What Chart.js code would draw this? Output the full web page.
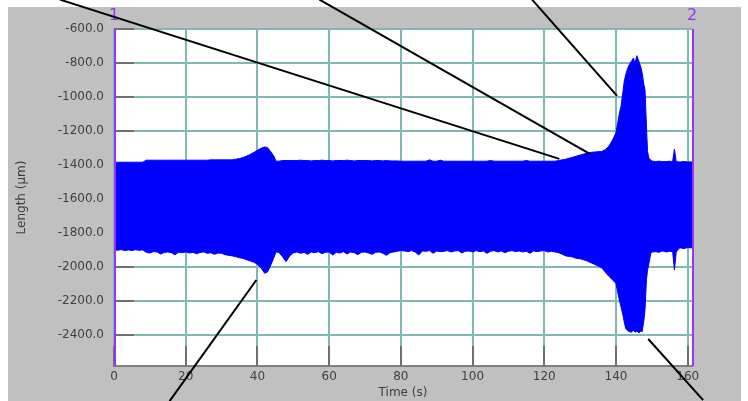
<!DOCTYPE html>
<html>
<head>
<meta charset="utf-8">
<title>Length vs Time</title>
<script src="https://cdn.jsdelivr.net/npm/chart.js@4.4.1/dist/chart.umd.min.js"></script>
<style>
    html, body { margin: 0; padding: 0; background: #ffffff; }
    canvas { display: block; }
</style>
</head>
<body>
<canvas id="lengthChart" width="748" height="401"></canvas>
<script>
// Signal envelope (the oscillation fills the band between upper and lower)
const time = [
    0, 1, 2, 3, 4, 5, 6, 7, 8, 9,
    10, 11, 12, 13, 14, 15, 16, 17, 18, 19,
    20, 21, 22, 23, 24, 25, 26, 27, 28, 29,
    30, 31, 32, 33, 34, 35,
    36, 37, 38, 39, 40, 41, 42, 42.8, 43.5, 44.5, 45.2, 46, 47, 48, 49,
    50, 51, 52, 53, 54, 55, 56, 57, 58, 59,
    60, 61, 62, 63, 64, 65, 66, 67, 68, 69,
    70, 71, 72, 73, 74, 75, 76, 77, 78, 79,
    80, 81, 82, 83, 84, 85, 86, 87, 88, 89,
    90, 91, 92, 93, 94, 95, 96, 97, 98, 99,
    100, 101, 102, 103, 104, 105, 106, 107, 108, 109,
    110, 111, 112, 113, 114, 115, 116, 117, 118, 119,
    120, 121, 122,
    123, 124, 125, 126, 127, 128, 129, 130, 131, 132, 133, 134, 135, 136,
    137, 138, 139, 140, 140.5, 141, 141.4, 142, 142.3, 142.7, 143.2, 143.7, 144.3,
    144.9, 145.3, 145.8, 146.4, 147, 147.3, 147.8, 148.1, 148.5, 148.8, 149.2, 149.7, 150.2,
    151, 152, 153, 154, 155, 155.8, 156.3, 156.8, 157.6, 158, 159, 160, 161.2
];

const upperEnvelope = [
    -1384, -1384, -1384, -1384, -1384, -1384, -1384, -1384, -1384, -1372,
    -1372, -1372, -1372, -1372, -1372, -1372, -1372, -1372, -1372, -1372,
    -1372, -1372, -1372, -1372, -1372, -1372, -1372, -1370, -1370, -1370,
    -1370, -1370, -1370, -1370, -1366, -1362,
    -1356, -1348, -1338, -1326, -1314, -1302, -1294, -1298, -1316, -1345, -1378, -1378, -1374, -1374, -1374,
    -1374, -1374, -1372, -1374, -1374, -1376, -1374, -1374, -1372, -1374,
    -1374, -1376, -1374, -1374, -1374, -1372, -1374, -1376, -1374, -1374,
    -1374, -1374, -1376, -1374, -1374, -1376, -1374, -1376, -1376, -1376,
    -1378, -1378, -1378, -1378, -1378, -1378, -1378, -1378, -1370, -1378,
    -1378, -1372, -1378, -1378, -1378, -1378, -1378, -1378, -1378, -1378,
    -1378, -1378, -1378, -1378, -1378, -1374, -1378, -1378, -1378, -1378,
    -1378, -1378, -1378, -1378, -1378, -1374, -1378, -1378, -1378, -1378,
    -1378, -1378, -1378,
    -1378, -1374, -1370, -1366, -1360, -1354, -1348, -1342, -1336, -1330, -1326, -1324, -1322, -1321,
    -1310, -1290, -1255, -1210, -1150, -1090, -1056, -960, -909, -870, -835, -810, -790,
    -771, -804, -757, -790, -830, -860, -930, -958, -1174, -1321, -1360, -1372, -1378,
    -1380, -1378, -1380, -1380, -1378, -1380, -1307, -1380, -1382, -1382, -1380, -1382, -1382
];

const lowerEnvelope = [
    -1900, -1902, -1898, -1904, -1900, -1903, -1899, -1902, -1900, -1914,
    -1918, -1910, -1912, -1924, -1915, -1912, -1916, -1928, -1914, -1916,
    -1912, -1918, -1914, -1922, -1915, -1912, -1920, -1916, -1926, -1918,
    -1920, -1928, -1932, -1935, -1940, -1946,
    -1950, -1958, -1965, -1972, -1985, -2005, -2037, -2030, -2000, -1950, -1912, -1915, -1940, -1969, -1935,
    -1918, -1912, -1920, -1914, -1926, -1912, -1916, -1910, -1922, -1914,
    -1912, -1930, -1914, -1918, -1910, -1924, -1912, -1916, -1928, -1914,
    -1912, -1918, -1926, -1914, -1912, -1920, -1932, -1916, -1912, -1908,
    -1904, -1906, -1910, -1904, -1912, -1930, -1906, -1908, -1904, -1920,
    -1906, -1910, -1908, -1904, -1912, -1906, -1904, -1918, -1908, -1906,
    -1912, -1904, -1910, -1906, -1920, -1908, -1904, -1912, -1906, -1916,
    -1908, -1904, -1910, -1906, -1912, -1908, -1920, -1906, -1910, -1906,
    -1904, -1912, -1908,
    -1912, -1916, -1925, -1935, -1938, -1942, -1950, -1952, -1958, -1965, -1975, -1985, -1995, -2005,
    -2030, -2055, -2075, -2097, -2150, -2200, -2235, -2290, -2324, -2360, -2375, -2380, -2385,
    -2372, -2384, -2378, -2388, -2376, -2381, -2312, -2250, -2076, -2020, -1978, -1920, -1912,
    -1910, -1914, -1906, -1912, -1908, -1910, -2018, -1912, -1890, -1888, -1892, -1886, -1888
];

const xTicks = [0, 20, 40, 60, 80, 100, 120, 140, 160];
const yTicks = [-600, -800, -1000, -1200, -1400, -1600, -1800, -2000, -2200, -2400];

// Measurement cursors
const cursorTimes = [0, 161.1];
const cursorLabels = ['1', '2'];

// Callout lines (data units), start outside the plot, end at a feature
const calloutStart = [[-15.1, -427], [57.3, -427], [116.6, -427], [15.5, -2790], [164.3, -2784]];
const calloutEnd = [[124.2, -1364], [132.7, -1335], [140.3, -993], [39.7, -2077], [149.0, -2424]];

if (time.length !== upperEnvelope.length || time.length !== lowerEnvelope.length) {
    console.error('Envelope arrays differ in length', time.length, upperEnvelope.length, lowerEnvelope.length);
}

const PANEL_GRAY = '#c0c0c0';
const GRID_TEAL = '#80b8b4';
const TEXT_GRAY = '#404040';
const CURSOR_PURPLE = '#9933ff';
const FONT = 'DejaVu Sans';

// Gray panel, white plot, inner ticks, cursors and callouts
const decorations = {
    id: 'decorations',
    beforeDraw(chart) {
        const ctx = chart.ctx;
        const a = chart.chartArea;
        ctx.save();
        ctx.fillStyle = PANEL_GRAY;
        ctx.fillRect(8, 7, chart.width - 15, chart.height - 7);
        ctx.fillStyle = '#ffffff';
        ctx.fillRect(a.left, a.top, a.right - a.left, a.bottom - a.top);
        ctx.restore();
    },
    beforeDatasetsDraw(chart) {
        const ctx = chart.ctx;
        const a = chart.chartArea;
        const xs = chart.scales.x;
        const ys = chart.scales.y;
        ctx.save();
        ctx.strokeStyle = '#707070';
        ctx.lineWidth = 2;
        ctx.beginPath();
        yTicks.forEach((v) => {
            const py = Math.round(ys.getPixelForValue(v));
            ctx.moveTo(a.left, py);
            ctx.lineTo(a.left + 20, py);
        });
        xTicks.forEach((v) => {
            const px = Math.round(xs.getPixelForValue(v));
            ctx.moveTo(px, a.bottom);
            ctx.lineTo(px, a.bottom - 20);
        });
        ctx.stroke();
        ctx.restore();
    },
    afterDatasetsDraw(chart) {
        const ctx = chart.ctx;
        const a = chart.chartArea;
        const xs = chart.scales.x;
        ctx.save();
        ctx.strokeStyle = CURSOR_PURPLE;
        ctx.fillStyle = CURSOR_PURPLE;
        ctx.lineWidth = 2;
        ctx.font = '16px ' + FONT;
        ctx.textAlign = 'center';
        ctx.textBaseline = 'middle';
        cursorTimes.forEach((t, i) => {
            const px = Math.round(xs.getPixelForValue(t)) + 1;
            ctx.beginPath();
            ctx.moveTo(px, a.top);
            ctx.lineTo(px, a.bottom);
            ctx.stroke();
            ctx.fillText(cursorLabels[i], px - 1, a.top - 13);
        });
        ctx.restore();
    },
    afterDraw(chart) {
        const ctx = chart.ctx;
        const xs = chart.scales.x;
        const ys = chart.scales.y;
        ctx.save();
        ctx.strokeStyle = '#000000';
        ctx.lineWidth = 2;
        calloutStart.forEach((s, i) => {
            const e = calloutEnd[i];
            ctx.beginPath();
            ctx.moveTo(xs.getPixelForValue(s[0]), ys.getPixelForValue(s[1]));
            ctx.lineTo(xs.getPixelForValue(e[0]), ys.getPixelForValue(e[1]));
            ctx.stroke();
        });
        ctx.restore();
    },
};

function initChart() {
    if (typeof Chart === 'undefined') {
        console.error('Chart.js is not loaded');
        return;
    }
    const ctx = document.getElementById('lengthChart').getContext('2d');

    new Chart(ctx, {
        type: 'line',
        data: {
            datasets: [
                {
                    label: 'upper',
                    data: time.map((t, i) => ({ x: t, y: upperEnvelope[i] })),
                    borderColor: '#0000ff',
                    backgroundColor: '#0000ff',
                    borderWidth: 1,
                    pointRadius: 0,
                    tension: 0,
                    fill: '+1',
                },
                {
                    label: 'lower',
                    data: time.map((t, i) => ({ x: t, y: lowerEnvelope[i] })),
                    borderColor: '#0000ff',
                    backgroundColor: '#0000ff',
                    borderWidth: 1,
                    pointRadius: 0,
                    tension: 0,
                    fill: false,
                },
            ],
        },
        options: {
            responsive: false,
            animation: false,
            devicePixelRatio: 1,
            layout: {
                padding: { top: 29, right: 56, left: 0, bottom: 0 },
            },
            plugins: {
                legend: { display: false },
                tooltip: { enabled: false },
            },
            scales: {
                x: {
                    type: 'linear',
                    min: 0,
                    max: 161.2,
                    afterBuildTicks: (scale) => {
                        scale.ticks = xTicks.map((v) => ({ value: v }));
                    },
                    afterFit: (scale) => {
                        scale.height = 35;
                    },
                    grid: {
                        color: GRID_TEAL,
                        lineWidth: 2,
                        drawTicks: false,
                    },
                    border: { display: true, color: '#808080', width: 2 },
                    ticks: {
                        color: TEXT_GRAY,
                        font: { family: FONT, size: 12 },
                        padding: 4,
                        maxRotation: 0,
                        callback: (v) => String(v),
                    },
                    title: {
                        display: true,
                        text: 'Time (s)',
                        color: TEXT_GRAY,
                        font: { family: FONT, size: 12 },
                        padding: { top: 0, bottom: 1 },
                    },
                },
                y: {
                    type: 'linear',
                    min: -2583,
                    max: -600,
                    afterBuildTicks: (scale) => {
                        scale.ticks = yTicks.map((v) => ({ value: v }));
                    },
                    afterFit: (scale) => {
                        scale.width = 114;
                    },
                    grid: {
                        color: GRID_TEAL,
                        lineWidth: 2,
                        drawTicks: false,
                    },
                    border: { display: false },
                    ticks: {
                        color: TEXT_GRAY,
                        font: { family: FONT, size: 12 },
                        padding: 10,
                        callback: (v) => v.toFixed(1),
                    },
                    title: {
                        display: true,
                        text: 'Length (µm)',
                        color: TEXT_GRAY,
                        font: { family: FONT, size: 12 },
                        padding: { top: 15, bottom: 0 },
                    },
                },
            },
        },
        plugins: [decorations],
    });
}

initChart();
</script>
</body>
</html>
